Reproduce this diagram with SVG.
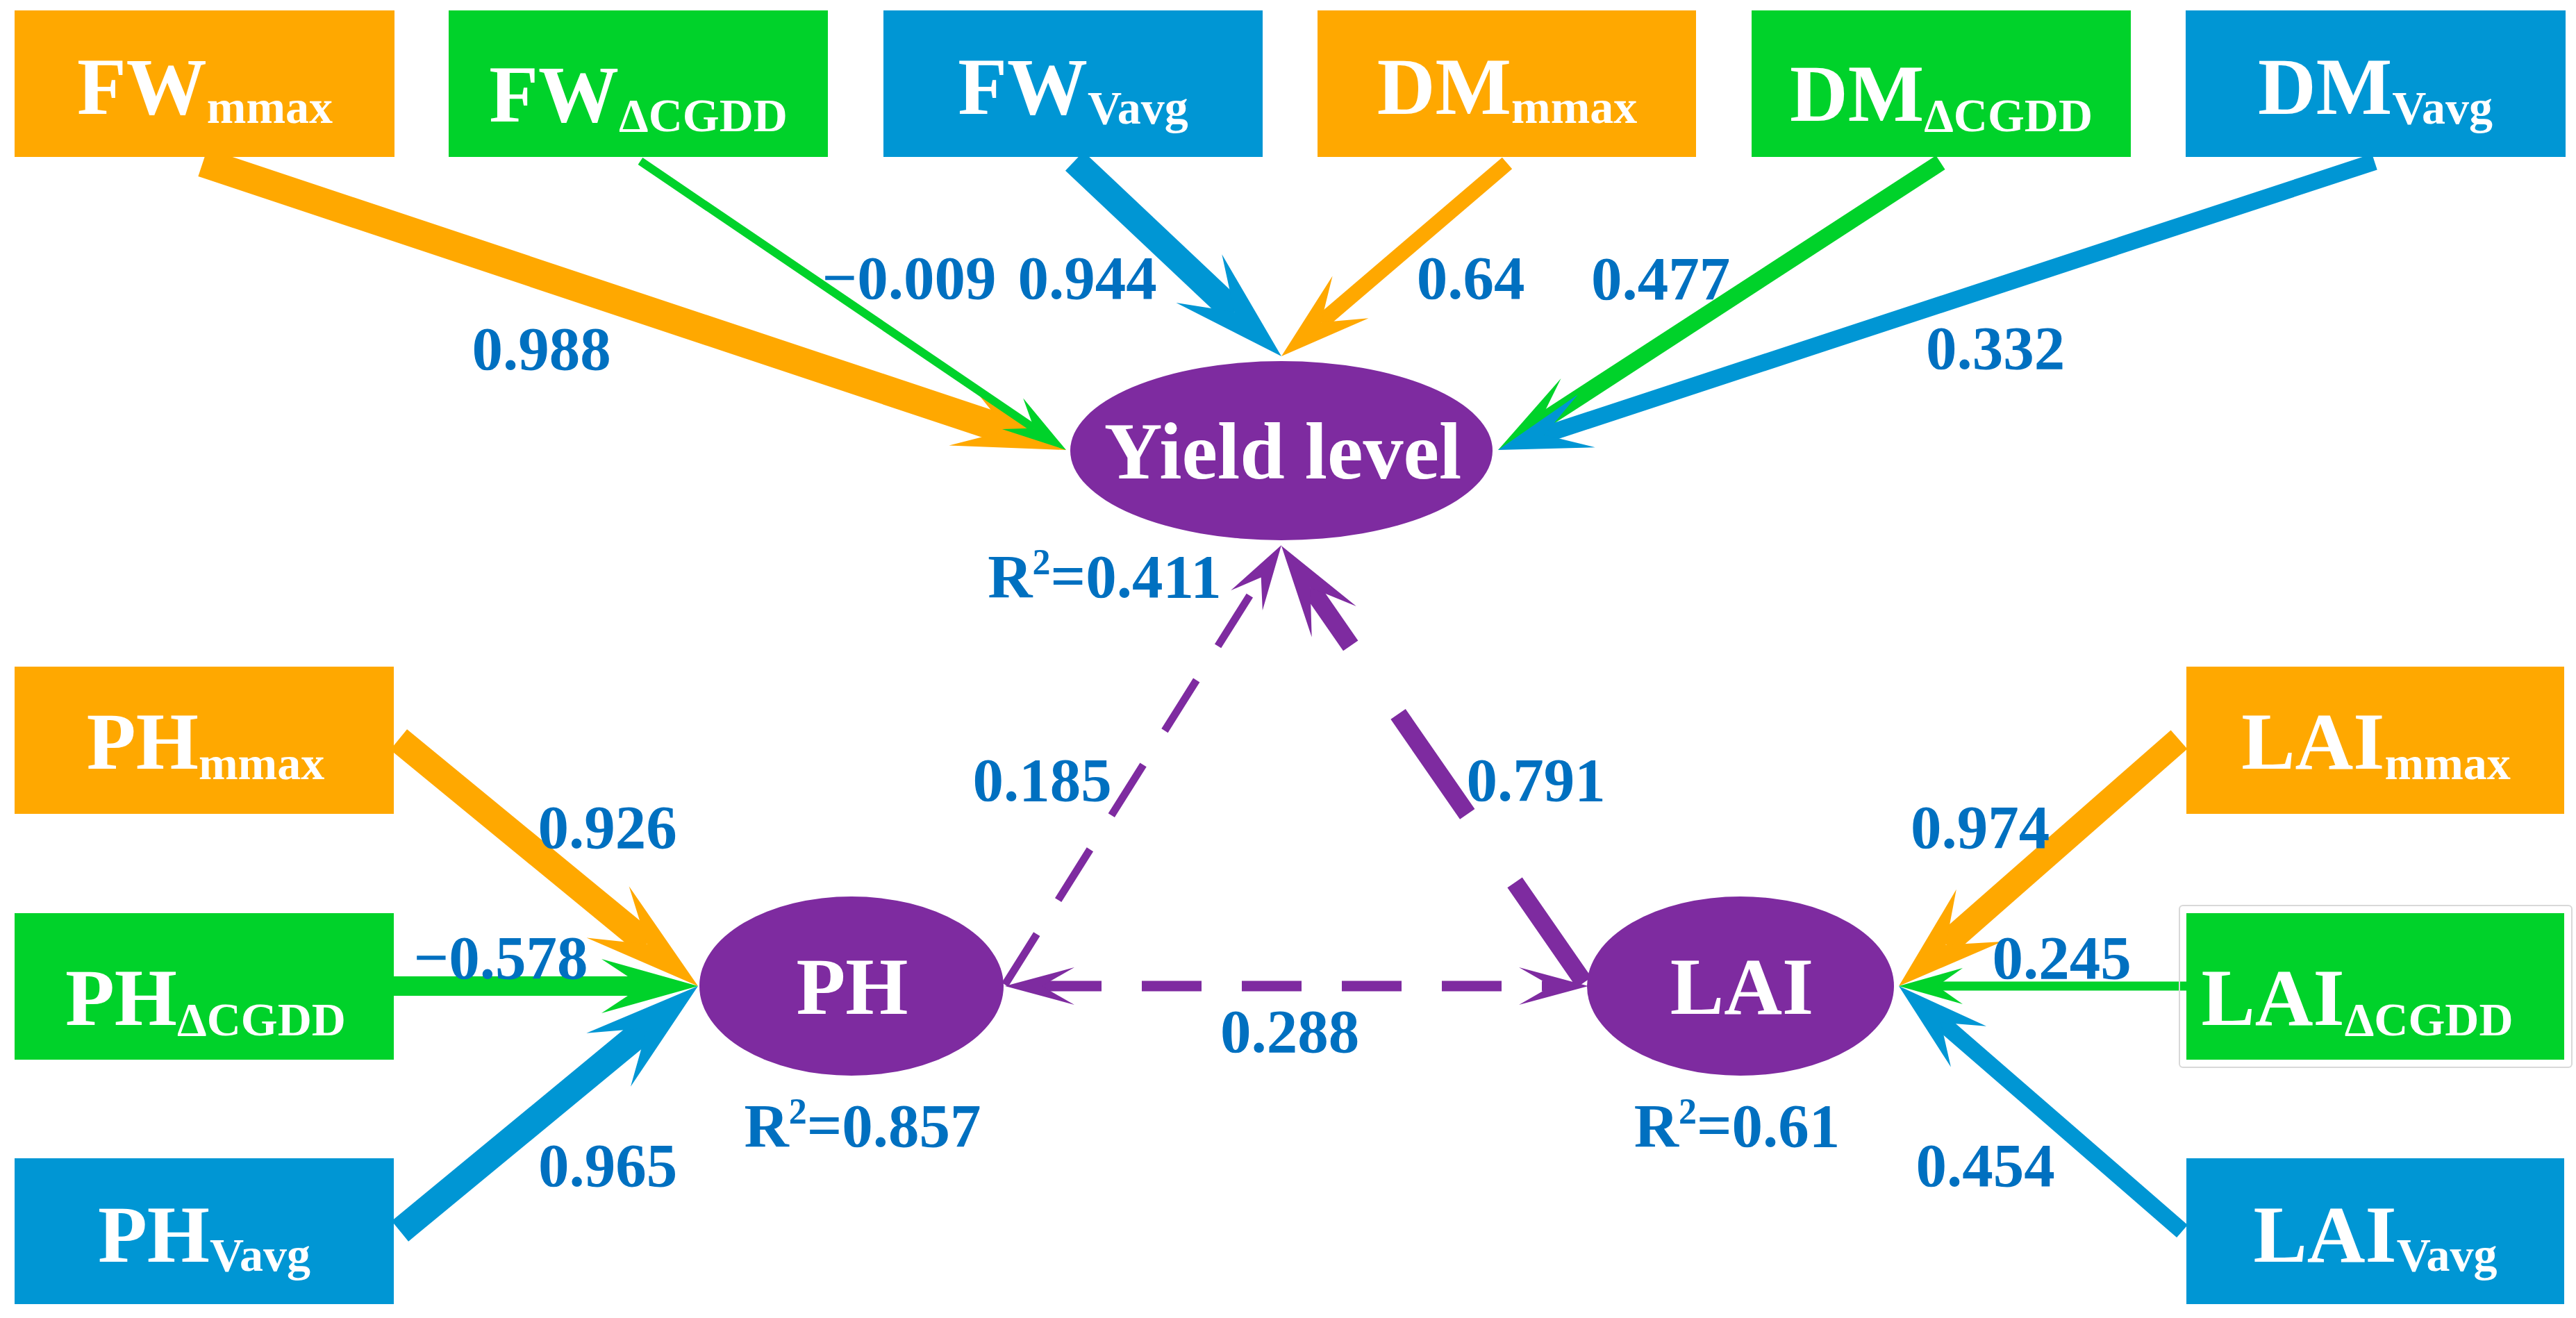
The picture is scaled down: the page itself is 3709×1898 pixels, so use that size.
<svg xmlns="http://www.w3.org/2000/svg" width="3709" height="1898" viewBox="0 0 3709 1898">
<style>
.bo{fill:#FFA800}.bg{fill:#00D22A}.bb{fill:#0096D4}
.ell{fill:#7E2BA0}
.so{stroke:#FFA800;fill:none}.sg{stroke:#00D22A;fill:none}.sb{stroke:#0096D4;fill:none}.sp{stroke:#7E2BA0;fill:none}
.fo{fill:#FFA800}.fg{fill:#00D22A}.fb{fill:#0096D4}.fp{fill:#7E2BA0}
.nt{font-family:"Liberation Serif","Times New Roman",serif;font-weight:bold;fill:#FFFFFF;font-size:116px;text-anchor:middle}
.sub{font-size:68px}
.lbl{font-family:"Liberation Serif","Times New Roman",serif;font-weight:bold;fill:#0070C0;font-size:89px;text-anchor:middle}
.sup{font-size:52px}
</style>
<rect width="3709" height="1898" fill="#FFFFFF"/>
<g id="connectors">
 <g id="c-FWmmax-Yield">
  <line class="so" x1="292" y1="234" x2="1450.6" y2="619.9" stroke-width="42"/>
  <polygon class="fo" points="0,0 -162,-47 -89,0 -162,47" transform="translate(1535,648) rotate(18.42)"/>
 </g>
 <g id="c-FWdCGDD-Yield">
  <line class="sg" x1="922" y1="232" x2="1488.7" y2="616.6" stroke-width="12"/>
  <polygon class="fg" points="0,0 -93,-27 -56,0 -93,27" transform="translate(1535,648) rotate(34.16)"/>
 </g>
 <g id="c-FWVavg-Yield">
  <line class="sb" x1="1547" y1="232" x2="1777.3" y2="449.2" stroke-width="38"/>
  <polygon class="fb" points="0,0 -163,-48 -93,0 -163,48" transform="translate(1845,513) rotate(43.32)"/>
 </g>
 <g id="c-DMmmax-Yield">
  <line class="so" x1="2170" y1="235" x2="1902" y2="464.2" stroke-width="22"/>
  <polygon class="fo" points="0,0 -131,-40 -75,0 -131,40" transform="translate(1845,513) rotate(139.46)"/>
 </g>
 <g id="c-DMdCGDD-Yield">
  <line class="sg" x1="2794" y1="234" x2="2215.7" y2="609.8" stroke-width="24"/>
  <polygon class="fg" points="0,0 -132,-37 -70,0 -132,37" transform="translate(2157,648) rotate(146.98)"/>
 </g>
 <g id="c-DMVavg-Yield">
  <line class="sb" x1="3419" y1="233" x2="2223.5" y2="626.1" stroke-width="24"/>
  <polygon class="fb" points="0,0 -134,-40 -70,0 -134,40" transform="translate(2157,648) rotate(161.8)"/>
 </g>
 <g id="c-PHmmax-PH">
  <line class="so" x1="574" y1="1065" x2="931.6" y2="1358.7" stroke-width="38"/>
  <polygon class="fo" points="0,0 -168,-48 -95,0 -168,48" transform="translate(1005,1420) rotate(39.4)"/>
 </g>
 <g id="c-PHdCGDD-PH">
  <line class="sg" x1="560" y1="1420" x2="925" y2="1420" stroke-width="28"/>
  <polygon class="fg" points="0,0 -139,-39 -80,0 -139,39" transform="translate(1005,1420)"/>
 </g>
 <g id="c-PHVavg-PH">
  <line class="sb" x1="576" y1="1773" x2="931.7" y2="1479.5" stroke-width="38"/>
  <polygon class="fb" points="0,0 -167,-50 -95,0 -167,50" transform="translate(1005,1420) rotate(-39.53)"/>
 </g>
 <g id="c-LAImmax-LAI">
  <line class="so" x1="3137.5" y1="1065" x2="2801.7" y2="1359.6" stroke-width="36"/>
  <polygon class="fo" points="0,0 -154,-50 -90,0 -154,50" transform="translate(2734,1420) rotate(138.74)"/>
 </g>
 <g id="c-LAIdCGDD-LAI">
  <line class="sg" x1="3150" y1="1420" x2="2789" y2="1420" stroke-width="13"/>
  <polygon class="fg" points="0,0 -92,-26 -55,0 -92,26" transform="translate(2734,1420) rotate(180)"/>
 </g>
 <g id="c-LAIVavg-LAI">
  <line class="sb" x1="3142" y1="1773" x2="2794.4" y2="1471.4" stroke-width="24"/>
  <polygon class="fb" points="0,0 -133,-39 -80,0 -133,39" transform="translate(2734,1420) rotate(-139.06)"/>
 </g>
 <g id="c-PH-Yield">
  <line class="sp" x1="1447" y1="1418" x2="1815.7" y2="831.6" stroke-width="11" stroke-dasharray="86 58"/>
  <polygon class="fp" points="0,0 -94,-27 -55,0 -94,27" transform="translate(1845,785) rotate(-57.84)"/>
 </g>
 <g id="c-LAI-Yield">
  <line class="sp" x1="1886.6" y1="846" x2="2283" y2="1418" stroke-width="26" stroke-dasharray="175 120" stroke-dashoffset="73"/>
  <polygon class="fp" points="0,0 -133,-39 -73,0 -133,39" transform="translate(1845,786) rotate(-124.72)"/>
 </g>
 <g id="c-PH-LAI">
  <line class="sp" x1="1500" y1="1420" x2="2234" y2="1420" stroke-width="15" stroke-dasharray="86 58"/>
  <polygon class="fp" points="0,0 -100,-27 -53,0 -100,27" transform="translate(2287,1420)"/>
  <polygon class="fp" points="0,0 -100,-27 -53,0 -100,27" transform="translate(1447,1420) rotate(180)"/>
 </g>
</g>
<g id="node-FWmmax"><rect class="bo" x="21" y="15" width="547" height="211"/><text class="nt" x="295" y="164">FW<tspan class="sub" dy="13">mmax</tspan></text></g>
<g id="node-FWdCGDD"><rect class="bg" x="646" y="15" width="546" height="211"/><text class="nt" x="919" y="175">FW<tspan class="sub" dy="14">ΔCGDD</tspan></text></g>
<g id="node-FWVavg"><rect class="bb" x="1272" y="15" width="546" height="211"/><text class="nt" x="1545" y="164">FW<tspan class="sub" dy="14">Vavg</tspan></text></g>
<g id="node-DMmmax"><rect class="bo" x="1897" y="15" width="545" height="211"/><text class="nt" x="2170" y="164">DM<tspan class="sub" dy="13">mmax</tspan></text></g>
<g id="node-DMdCGDD"><rect class="bg" x="2522" y="15" width="546" height="211"/><text class="nt" x="2795" y="174">DM<tspan class="sub" dy="15">ΔCGDD</tspan></text></g>
<g id="node-DMVavg"><rect class="bb" x="3147" y="15" width="547" height="211"/><text class="nt" x="3420" y="164">DM<tspan class="sub" dy="14">Vavg</tspan></text></g>
<g id="node-PHmmax"><rect class="bo" x="21" y="960" width="546" height="212"/><text class="nt" x="296" y="1107">PH<tspan class="sub" dy="15">mmax</tspan></text></g>
<g id="node-PHdCGDD"><rect class="bg" x="21" y="1315" width="546" height="211"/><text class="nt" x="296" y="1476">PH<tspan class="sub" dy="15">ΔCGDD</tspan></text></g>
<g id="node-PHVavg"><rect class="bb" x="21" y="1668" width="546" height="210"/><text class="nt" x="294" y="1817">PH<tspan class="sub" dy="13">Vavg</tspan></text></g>
<g id="node-LAImmax"><rect class="bo" x="3148" y="960" width="544" height="212"/><text class="nt" x="3421" y="1107">LAI<tspan class="sub" dy="15">mmax</tspan></text></g>
<g id="node-LAIdCGDD"><rect x="3138" y="1304" width="565" height="233" rx="5" fill="none" stroke="#D8D8D8" stroke-width="2"/><rect class="bg" x="3148" y="1315" width="544" height="211"/><text class="nt" x="3394" y="1476">LAI<tspan class="sub" dy="15">ΔCGDD</tspan></text></g>
<g id="node-LAIVavg"><rect class="bb" x="3148" y="1668" width="544" height="210"/><text class="nt" x="3420" y="1817">LAI<tspan class="sub" dy="13">Vavg</tspan></text></g>
<g id="node-Yield"><ellipse class="ell" cx="1845" cy="649" rx="304" ry="129"/><text class="nt" x="1847" y="689">Yield level</text></g>
<g id="node-PH"><ellipse class="ell" cx="1226" cy="1420" rx="219" ry="129"/><text class="nt" x="1227" y="1460">PH</text></g>
<g id="node-LAI"><ellipse class="ell" cx="2506" cy="1420" rx="221" ry="129"/><text class="nt" x="2508" y="1460">LAI</text></g>
<g id="labels">
 <text class="lbl" x="779.5" y="532">0.988</text>
 <text class="lbl" x="1309" y="430">−0.009</text>
 <text class="lbl" x="1565.5" y="430">0.944</text>
 <text class="lbl" x="2117.5" y="430">0.64</text>
 <text class="lbl" x="2391" y="431">0.477</text>
 <text class="lbl" x="2873" y="531">0.332</text>
 <text class="lbl" x="1590.5" y="860">R<tspan class="sup" dy="-33">2</tspan><tspan dy="33">=0.411</tspan></text>
 <text class="lbl" x="1500.5" y="1153">0.185</text>
 <text class="lbl" x="2211.5" y="1153">0.791</text>
 <text class="lbl" x="874.5" y="1221">0.926</text>
 <text class="lbl" x="721" y="1409">−0.578</text>
 <text class="lbl" x="875" y="1708">0.965</text>
 <text class="lbl" x="1242" y="1651">R<tspan class="sup" dy="-33">2</tspan><tspan dy="33">=0.857</tspan></text>
 <text class="lbl" x="1857" y="1515">0.288</text>
 <text class="lbl" x="2851" y="1221">0.974</text>
 <text class="lbl" x="2968.5" y="1409">0.245</text>
 <text class="lbl" x="2858.5" y="1708">0.454</text>
 <text class="lbl" x="2501" y="1651">R<tspan class="sup" dy="-33">2</tspan><tspan dy="33">=0.61</tspan></text>
</g>
</svg>
